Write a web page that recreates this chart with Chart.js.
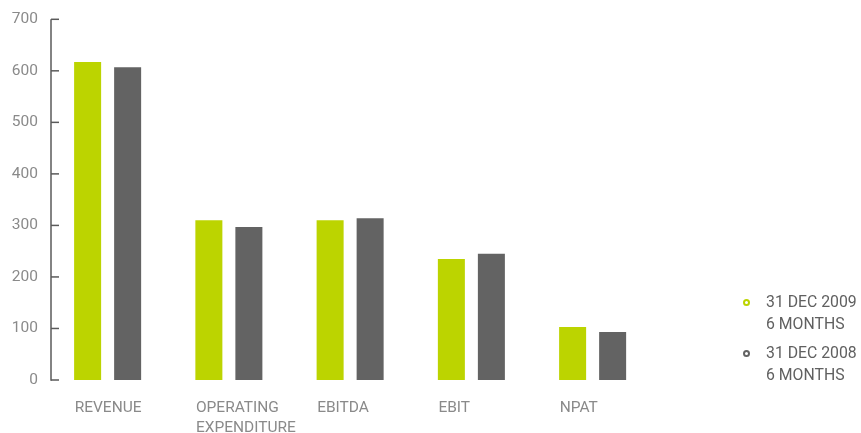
<!DOCTYPE html>
<html>
<head>
<meta charset="utf-8">
<script src="https://cdn.jsdelivr.net/npm/chart.js@4"></script>
<style>
  html, body { margin: 0; padding: 0; background: #fff; }
  #wrap { position: relative; width: 861px; height: 433px; overflow: hidden; }
  canvas { display: block; }
  .lg { position: absolute; left: 766px; font-family: Roboto, sans-serif; font-size: 15.8px; line-height: 22px; color: #606060; white-space: nowrap; }
  .mk { position: absolute; left: -23px; top: 7.5px; width: 7px; height: 7px; box-sizing: border-box; border-radius: 50%; border: 2px solid; }
</style>
</head>
<body>
<div id="wrap">
  <canvas id="c" width="861" height="433"></canvas>
  <div id="legend"></div>
</div>
<script>
const categories = [['REVENUE'], ['OPERATING', 'EXPENDITURE'], ['EBITDA'], ['EBIT'], ['NPAT']];
const seriesLabels = [['31 DEC 2009', '6 MONTHS'], ['31 DEC 2008', '6 MONTHS']];
const values2009 = [617, 310, 310, 235, 103];
const values2008 = [607, 297, 314, 245, 93];
const yTickValues = [0, 100, 200, 300, 400, 500, 600, 700];
const seriesColors = ['#bcd400', '#636363'];

const FONT = 'Roboto, sans-serif';

// HTML legend
const legendTops = [291.2, 342.2];
const legendEl = document.getElementById('legend');
seriesLabels.forEach((lines, i) => {
  const d = document.createElement('div');
  d.className = 'lg';
  d.style.top = legendTops[i] + 'px';
  const m = document.createElement('span');
  m.className = 'mk';
  m.style.borderColor = seriesColors[i];
  d.appendChild(m);
  lines.forEach((t, j) => {
    if (j) d.appendChild(document.createElement('br'));
    d.appendChild(document.createTextNode(t));
  });
  legendEl.appendChild(d);
});

// Axis line with inward ticks
const axisPlugin = {
  id: 'inwardAxis',
  afterDraw(chart) {
    const ctx = chart.ctx;
    const y = chart.scales.y;
    const x0 = chart.chartArea.left + 4;
    ctx.save();
    ctx.strokeStyle = '#5a5a5a';
    ctx.lineWidth = 1.5;
    ctx.beginPath();
    ctx.moveTo(x0, y.getPixelForValue(yTickValues[yTickValues.length - 1]));
    ctx.lineTo(x0, y.getPixelForValue(0) + 0.75);
    ctx.stroke();
    yTickValues.forEach(v => {
      const py = y.getPixelForValue(v);
      ctx.beginPath();
      ctx.moveTo(x0, py);
      ctx.lineTo(x0 + 8, py);
      ctx.stroke();
    });
    ctx.restore();
  }
};

new Chart(document.getElementById('c'), {
  type: 'bar',
  data: {
    labels: categories,
    datasets: [
      { label: seriesLabels[0].join(' '), data: values2009, backgroundColor: seriesColors[0] },
      { label: seriesLabels[1].join(' '), data: values2008, backgroundColor: seriesColors[1] }
    ]
  },
  options: {
    responsive: false,
    animation: false,
    layout: { padding: { top: 19.3, right: 207.75, bottom: 0, left: 0 } },
    categoryPercentage: 0.66,
    barPercentage: 0.675,
    plugins: { legend: { display: false }, tooltip: { enabled: false } },
    scales: {
      x: {
        offset: true,
        grid: { display: false, drawTicks: false },
        border: { display: false },
        ticks: {
          autoSkip: false, maxRotation: 0, minRotation: 0,
          align: 'start', labelOffset: -33, padding: 18,
          color: '#8a8a8a', font: { family: FONT, size: 15.5, lineHeight: 1.3 }
        },
        afterFit(s) { s.height = 53; }
      },
      y: {
        min: 0, max: 700,
        grid: { display: false, drawTicks: false },
        border: { display: false },
        ticks: {
          stepSize: 100, padding: 9,
          color: '#8a8a8a', font: { family: FONT, size: 15.5 }
        },
        afterBuildTicks(s) { s.ticks = yTickValues.map(v => ({ value: v })); },
        afterFit(s) { s.width = 47; }
      }
    }
  },
  plugins: [axisPlugin]
});
</script>
</body>
</html>
